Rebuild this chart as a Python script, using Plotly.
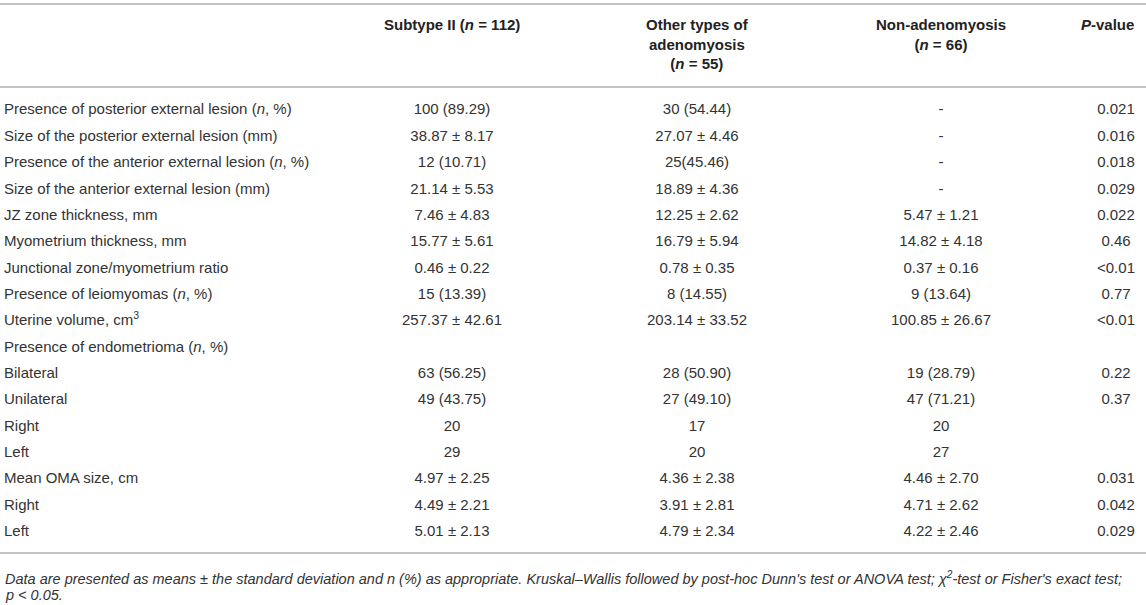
import plotly.graph_objects as go

row_labels = [
    "Presence of posterior external lesion (<i>n</i>, %)",
    "Size of the posterior external lesion (mm)",
    "Presence of the anterior external lesion (<i>n</i>, %)",
    "Size of the anterior external lesion (mm)",
    "JZ zone thickness, mm",
    "Myometrium thickness, mm",
    "Junctional zone/myometrium ratio",
    "Presence of leiomyomas (<i>n</i>, %)",
    "Uterine volume, cm<sup>3</sup>",
    "Presence of endometrioma (<i>n</i>, %)",
    "Bilateral",
    "Unilateral",
    "Right",
    "Left",
    "Mean OMA size, cm",
    "Right",
    "Left",
]
subtype_ii = [
    "100 (89.29)", "38.87 ± 8.17", "12 (10.71)", "21.14 ± 5.53", "7.46 ± 4.83",
    "15.77 ± 5.61", "0.46 ± 0.22", "15 (13.39)", "257.37 ± 42.61", "",
    "63 (56.25)", "49 (43.75)", "20", "29", "4.97 ± 2.25", "4.49 ± 2.21", "5.01 ± 2.13",
]
other_types = [
    "30 (54.44)", "27.07 ± 4.46", "25(45.46)", "18.89 ± 4.36", "12.25 ± 2.62",
    "16.79 ± 5.94", "0.78 ± 0.35", "8 (14.55)", "203.14 ± 33.52", "",
    "28 (50.90)", "27 (49.10)", "17", "20", "4.36 ± 2.38", "3.91 ± 2.81", "4.79 ± 2.34",
]
non_adeno = [
    "-", "-", "-", "-", "5.47 ± 1.21",
    "14.82 ± 4.18", "0.37 ± 0.16", "9 (13.64)", "100.85 ± 26.67", "",
    "19 (28.79)", "47 (71.21)", "20", "27", "4.46 ± 2.70", "4.71 ± 2.62", "4.22 ± 2.46",
]
p_values = [
    "0.021", "0.016", "0.018", "0.029", "0.022",
    "0.46", "&lt;0.01", "0.77", "&lt;0.01", "",
    "0.22", "0.37", "", "", "0.031", "0.042", "0.029",
]
headers = [
    "Subtype II (<i>n</i> = 112)",
    "Other types of<br>adenomyosis<br>(<i>n</i> = 55)",
    "Non-adenomyosis<br>(<i>n</i> = 66)",
    "<i>P</i>-value",
]
footnote_lines = [
    "<i>Data are presented as means ± the standard deviation and n (%) as appropriate. "
    "Kruskal–Wallis followed by post-hoc Dunn's test or ANOVA test; χ<sup>2</sup>-test "
    "or Fisher's exact test;</i>",
    "<i>p &lt; 0.05.</i>",
]

W, H = 1146, 605
ROW_TOP, ROW_H = 110.7, 26.35
FONT = "Liberation Sans, Arial, sans-serif"
TXT = "#333333"
RULE = "#c4c4c4"

rows_y = [ROW_TOP + i * ROW_H for i in range(len(row_labels))]

fig = go.Figure()


def text_column(xc, col, pos):
    # skip empty cells
    pts = [(y, t) for y, t in zip(rows_y, col) if t]
    fig.add_trace(go.Scatter(
        x=[xc] * len(pts), y=[p[0] for p in pts], text=[p[1] for p in pts],
        mode="text", textposition=pos,
        textfont=dict(family=FONT, size=15, color=TXT),
        hoverinfo="skip", showlegend=False,
    ))


text_column(4, row_labels, "middle right")
for xc, col in [(452, subtype_ii), (697, other_types), (941, non_adeno), (1116, p_values)]:
    text_column(xc, col, "middle center")

# header cells
for xc, h in zip([452, 697, 941, 1107], headers):
    fig.add_annotation(
        x=xc, y=14, xref="x", yref="y", text=h, showarrow=False,
        xanchor="center", yanchor="top", align="center",
        font=dict(family=FONT, size=15, color="#222222", weight="bold"),
    )

# horizontal rules
for yy in [4, 87, 553]:
    fig.add_shape(type="line", x0=0, x1=W, y0=yy, y1=yy, xref="x", yref="y",
                  line=dict(color=RULE, width=2))

# footnote, two lines
for yy, line in zip([578, 595], footnote_lines):
    fig.add_annotation(
        x=3, y=yy, xref="x", yref="y", text=line, showarrow=False,
        xanchor="left", yanchor="middle", align="left",
        font=dict(family=FONT, size=14.5, color=TXT),
    )

fig.update_xaxes(range=[0, W], visible=False, fixedrange=True)
fig.update_yaxes(range=[H, 0], visible=False, fixedrange=True)
fig.update_layout(
    width=W, height=H, margin=dict(l=0, r=0, t=0, b=0),
    paper_bgcolor="white", plot_bgcolor="white",
)

fig.write_html("out.html", config={"displayModeBar": False},
               post_script="document.body.style.margin='0';")
